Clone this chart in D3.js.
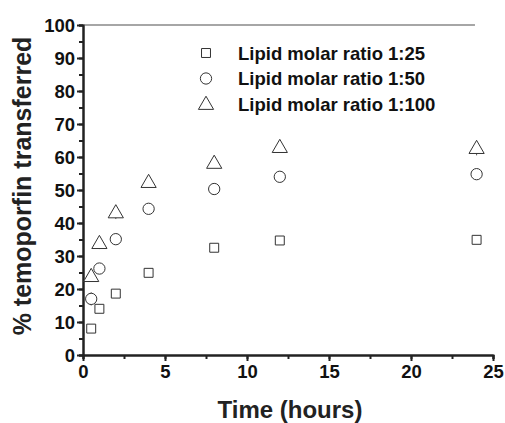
<!DOCTYPE html>
<html lang="en">
<head>
<meta charset="UTF-8">
<title>temoporfin transfer</title>
<script src="https://cdn.jsdelivr.net/npm/d3@7/dist/d3.min.js"></script>
<style>
  body { margin: 0; background: #fff; }
  text { font-family: "Liberation Sans", Arial, sans-serif; font-weight: bold; }
</style>
</head>
<body>
<script>
// data
var times = [0.5, 1, 2, 4, 8, 12, 24];
var ratio25 = [8, 14, 18.6, 24.9, 32.5, 34.7, 34.9];
var ratio50 = [17, 26.2, 35.1, 44.3, 50.3, 54, 54.8];
var ratio100 = [23.9, 33.9, 43.2, 52.4, 58.2, 63, 62.7];
var err25 = [0.5, 0.5, 1, 0.8, 0.8, 0.8, 0.8];
var err50 = [2, 0.5, 0.5, 0.5, 0.5, 0.5, 1.5];
var err100 = [1.5, 1.8, 2, 0.5, 0.5, 0.5, 2.2];
var seriesNames = ["Lipid molar ratio 1:25", "Lipid molar ratio 1:50", "Lipid molar ratio 1:100"];
var xTicks = [0, 5, 10, 15, 20, 25];
var yTicks = [0, 10, 20, 30, 40, 50, 60, 70, 80, 90, 100];

var w = 505, h = 423;
var svg = d3.select("body").append("svg").attr("width", w).attr("height", h);

var x = d3.scaleLinear().domain([0, 25]).range([83, 493]);
var y = d3.scaleLinear().domain([0, 100]).range([355, 25]);

// top border line (gray)
svg.append("line")
   .attr("x1", x(0)).attr("x2", x(23.9))
   .attr("y1", y(100)).attr("y2", y(100))
   .attr("stroke", "#888").attr("stroke-width", 1.5);

// minor ticks
var gx = svg.append("g").attr("transform", "translate(0," + y(0) + ")");
gx.call(d3.axisBottom(x).tickValues(d3.range(0, 25.1, 2.5)).tickSize(4).tickFormat(""));
var gy = svg.append("g").attr("transform", "translate(" + x(0) + ",0)");
gy.call(d3.axisLeft(y).tickValues(d3.range(0, 101, 5)).tickSize(4).tickFormat(""));

// major axes
var ax = svg.append("g").attr("transform", "translate(0," + y(0) + ")")
    .call(d3.axisBottom(x).tickValues(xTicks).tickSize(6).tickSizeOuter(0).tickPadding(4));
var ay = svg.append("g").attr("transform", "translate(" + x(0) + ",0)")
    .call(d3.axisLeft(y).tickValues(yTicks).tickSize(6).tickSizeOuter(0).tickPadding(2));

svg.selectAll(".domain, .tick line").attr("stroke", "#222").attr("stroke-width", 2);
ax.selectAll("text").attr("font-size", 18.5).attr("fill", "#111");
ay.selectAll("text").attr("font-size", 18.5).attr("fill", "#111").attr("dy", "0.35em");

// axis titles
svg.append("text")
   .attr("x", 290).attr("y", 418)
   .attr("text-anchor", "middle")
   .attr("font-size", 24).attr("fill", "#222")
   .text("Time (hours)");
svg.append("text")
   .attr("transform", "translate(31,186) rotate(-90)")
   .attr("text-anchor", "middle")
   .attr("font-size", 25).attr("fill", "#222")
   .text("% temoporfin transferred");

// symbols
var shapes = [d3.symbolSquare, d3.symbolCircle, d3.symbolTriangle];
var sizes = [80, 100, 100];
var all = [ratio25, ratio50, ratio100];
var errs = [err25, err50, err100];

all.forEach(function(vals, s) {
    var g = svg.append("g");
    var pts = times.map(function(t, i) { return { t: t, v: vals[i], e: errs[s][i] }; });
    g.selectAll("line.err").data(pts).enter().append("line")
     .attr("x1", function(d) { return x(d.t); })
     .attr("x2", function(d) { return x(d.t); })
     .attr("y1", function(d) { return y(d.v - d.e); })
     .attr("y2", function(d) { return y(d.v + d.e); })
     .attr("stroke", "#555").attr("stroke-width", 1);
    g.selectAll("path").data(pts).enter().append("path")
     .attr("d", d3.symbol().type(shapes[s]).size(sizes[s]))
     .attr("transform", function(d) { return "translate(" + x(d.t) + "," + (y(d.v) + (s == 2 ? 1 : 0)) + ")"; })
     .attr("fill", "#fff").attr("stroke", "#333").attr("stroke-width", 1);
});

// legend
var legend = svg.selectAll("g.leg").data(seriesNames).enter().append("g")
    .attr("class", "leg")
    .attr("transform", function(d, i) { return "translate(206," + (53 + i * 25.5) + ")"; });
legend.append("path")
    .attr("d", function(d, i) { return d3.symbol().type(shapes[i]).size(sizes[i])(); })
    .attr("transform", function(d, i) { return i == 2 ? "translate(0,1)" : null; })
    .attr("fill", "none").attr("stroke", "#333").attr("stroke-width", 1);
legend.append("text")
    .attr("x", 32).attr("dy", "0.36em")
    .attr("font-size", 18.5).attr("fill", "#111")
    .text(function(d) { return d; });
</script>
</body>
</html>
